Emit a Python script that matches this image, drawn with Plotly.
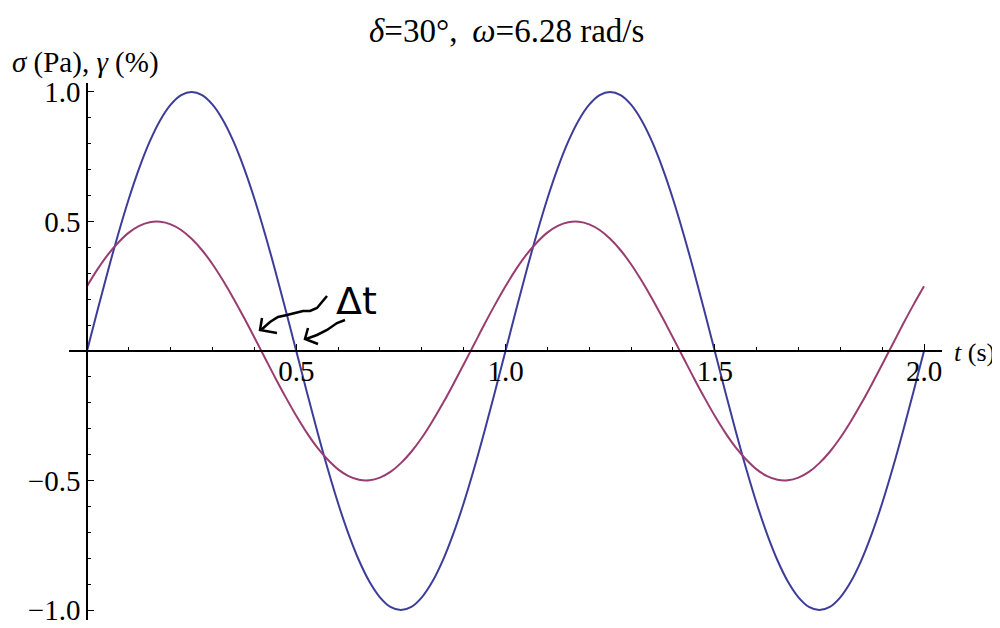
import plotly.graph_objects as go

# time samples (s)
t = [0.000, 0.025, 0.050, 0.075, 0.100, 0.125, 0.150, 0.175, 0.200, 0.225,
     0.250, 0.275, 0.300, 0.325, 0.350, 0.375, 0.400, 0.425, 0.450, 0.475,
     0.500, 0.525, 0.550, 0.575, 0.600, 0.625, 0.650, 0.675, 0.700, 0.725,
     0.750, 0.775, 0.800, 0.825, 0.850, 0.875, 0.900, 0.925, 0.950, 0.975,
     1.000, 1.025, 1.050, 1.075, 1.100, 1.125, 1.150, 1.175, 1.200, 1.225,
     1.250, 1.275, 1.300, 1.325, 1.350, 1.375, 1.400, 1.425, 1.450, 1.475,
     1.500, 1.525, 1.550, 1.575, 1.600, 1.625, 1.650, 1.675, 1.700, 1.725,
     1.750, 1.775, 1.800, 1.825, 1.850, 1.875, 1.900, 1.925, 1.950, 1.975,
     2.000]

# strain gamma (%) - blue curve
gamma = [0.000, 0.156, 0.309, 0.454, 0.588, 0.707, 0.809, 0.891, 0.951, 0.988,
         1.000, 0.988, 0.951, 0.891, 0.809, 0.707, 0.588, 0.454, 0.309, 0.156,
         0.000, -0.156, -0.309, -0.454, -0.588, -0.707, -0.809, -0.891, -0.951, -0.988,
         -1.000, -0.988, -0.951, -0.891, -0.809, -0.707, -0.588, -0.454, -0.309, -0.156,
         0.000, 0.156, 0.309, 0.454, 0.588, 0.707, 0.809, 0.891, 0.951, 0.988,
         1.000, 0.988, 0.951, 0.891, 0.809, 0.707, 0.588, 0.454, 0.309, 0.156,
         0.000, -0.156, -0.309, -0.454, -0.588, -0.707, -0.809, -0.891, -0.951, -0.988,
         -1.000, -0.988, -0.951, -0.891, -0.809, -0.707, -0.588, -0.454, -0.309, -0.156,
         0.000]

# stress sigma (Pa) - purple curve
sigma = [0.250, 0.315, 0.372, 0.419, 0.457, 0.483, 0.497, 0.499, 0.489, 0.467,
         0.433, 0.389, 0.335, 0.272, 0.203, 0.129, 0.052, -0.026, -0.104, -0.179,
         -0.250, -0.315, -0.372, -0.419, -0.457, -0.483, -0.497, -0.499, -0.489, -0.467,
         -0.433, -0.389, -0.335, -0.272, -0.203, -0.129, -0.052, 0.026, 0.104, 0.179,
         0.250, 0.315, 0.372, 0.419, 0.457, 0.483, 0.497, 0.499, 0.489, 0.467,
         0.433, 0.389, 0.335, 0.272, 0.203, 0.129, 0.052, -0.026, -0.104, -0.179,
         -0.250, -0.315, -0.372, -0.419, -0.457, -0.483, -0.497, -0.499, -0.489, -0.467,
         -0.433, -0.389, -0.335, -0.272, -0.203, -0.129, -0.052, 0.026, 0.104, 0.179,
         0.250]

x_tickvals = [0.5, 1.0, 1.5, 2.0]
x_ticktext = ["0.5", "1.0", "1.5", "2.0"]
y_tickvals = [-1.0, -0.5, 0.5, 1.0]
y_ticktext = ["\u22121.0", "\u22120.5", "0.5", "1.0"]

BLUE = "#3d3d99"
PURPLE = "#993d71"
SERIF = "Liberation Serif, Times New Roman, serif"

X_RANGE = [-0.043, 2.043]
Y_RANGE = [-1.0386, 1.0347]

# page body has an 8px margin: figure is laid out in (screen - 8) coordinates
W, H = 992, 620
PL, PR, PT, PB = 61, 58, 75, 8
PLOT_W = W - PL - PR
PLOT_H = H - PT - PB

fig = go.Figure()
fig.add_trace(go.Scatter(x=t, y=gamma, mode="lines", line=dict(color=BLUE, width=2, shape="spline"),
                         showlegend=False, hoverinfo="skip"))
fig.add_trace(go.Scatter(x=t, y=sigma, mode="lines", line=dict(color=PURPLE, width=2, shape="spline"),
                         showlegend=False, hoverinfo="skip"))

# screen pixel -> data / paper helpers for annotations
def d(px, py):
    return ((px - 87) / 418.5, (351 - py) / 259.0)

def pp(px, py):
    return ((px - 8 - PL) / PLOT_W, (H - PB - (py - 8)) / PLOT_H)

def path(points):
    s = ""
    for i, (px, py) in enumerate(points):
        x, y = d(px, py)
        s += ("M" if i == 0 else "L") + f"{x:.4f},{y:.4f} "
    return s.strip()

arrow1 = [(327, 296), (322, 302), (317, 308), (310, 311), (303, 311), (295, 313),
          (287, 315), (278, 317), (270, 322), (261, 330)]
head1a = [(262, 318), (260, 330), (277, 333)]
arrow2 = [(345, 320), (337, 323), (327, 330), (317, 335), (306, 339)]
head2a = [(308, 328), (305, 339), (318, 344)]

for p in (arrow1, head1a, arrow2, head2a):
    fig.add_shape(type="path", path=path(p), xref="x", yref="y",
                  line=dict(color="black", width=2.5))

fig.add_annotation(x=d(356, 301)[0], y=d(356, 301)[1], xref="x", yref="y", text="\u0394t",
                   showarrow=False, font=dict(family="DejaVu Sans, sans-serif", size=38, color="black"))

tx, ty = pp(952, 352)
fig.add_annotation(x=tx, y=ty, xref="paper", yref="paper", text="<i>t</i> (s)",
                   xanchor="left", yanchor="middle", showarrow=False,
                   font=dict(family=SERIF, size=26, color="black"))
sx, sy = pp(10, 62)
fig.add_annotation(x=sx, y=sy, xref="paper", yref="paper",
                   text="<i>\u03c3</i>\u00a0(Pa), <i>\u03b3</i>\u00a0(%)",
                   xanchor="left", yanchor="middle", showarrow=False,
                   font=dict(family=SERIF, size=29, color="black"))

# title as an annotation placed just inside the top edge
fig.add_annotation(x=(506 - 8 - PL) / PLOT_W, y=(H - PB - 3) / PLOT_H, xref="paper", yref="paper",
                   text="<i>\u03b4</i>=30\u00b0,\u2009 <i>\u03c9</i>=6.28 rad/s",
                   xanchor="center", yanchor="top", showarrow=False,
                   font=dict(family=SERIF, size=33, color="black"))

x_pos = (0 - Y_RANGE[0]) / (Y_RANGE[1] - Y_RANGE[0])
y_pos = (0 - X_RANGE[0]) / (X_RANGE[1] - X_RANGE[0])

fig.update_layout(
    width=W, height=H,
    margin=dict(l=PL, r=PR, t=PT, b=PB),
    plot_bgcolor="white", paper_bgcolor="white",
    xaxis=dict(range=X_RANGE, anchor="free", position=x_pos, showgrid=False, zeroline=False,
               automargin=False,
               showline=True, linecolor="black", linewidth=1.6,
               tickmode="array", tickvals=x_tickvals, ticktext=x_ticktext,
               ticks="inside", ticklen=6, tickwidth=1.3, tickcolor="black",
               ticklabelstandoff=-6,
               tickfont=dict(family=SERIF, size=29, color="black"),
               minor=dict(dtick=0.1, tick0=0, ticks="inside", ticklen=3.5, tickwidth=1, tickcolor="black")),
    yaxis=dict(range=Y_RANGE, anchor="free", position=y_pos, showgrid=False, zeroline=False,
               automargin=False,
               showline=True, linecolor="black", linewidth=1.6,
               tickmode="array", tickvals=y_tickvals, ticktext=y_ticktext,
               ticks="inside", ticklen=6, tickwidth=1.3, tickcolor="black",
               tickfont=dict(family=SERIF, size=29, color="black"),
               minor=dict(dtick=0.1, tick0=0, ticks="inside", ticklen=3.5, tickwidth=1, tickcolor="black")),
)

fig.write_html("out.html")
